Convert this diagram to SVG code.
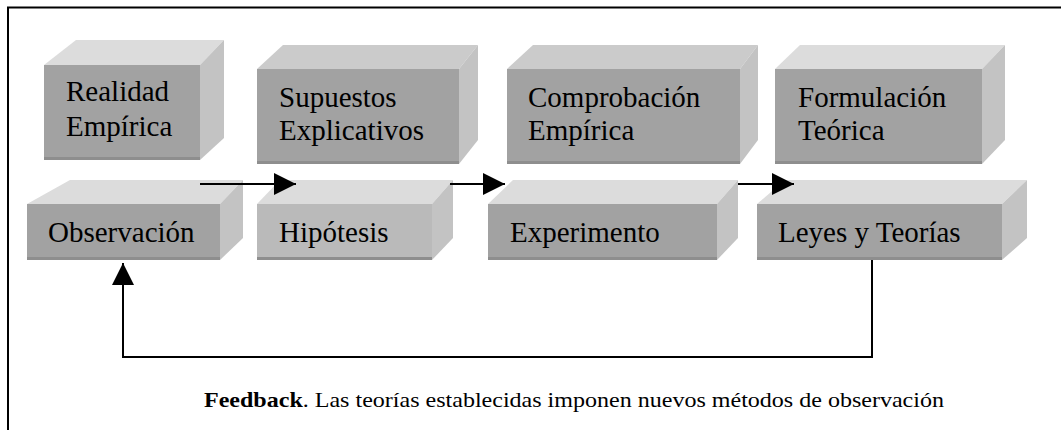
<svg xmlns="http://www.w3.org/2000/svg" width="1061" height="430" viewBox="0 0 1061 430">
<style>
.front{fill:#a2a2a2}
.frontL{fill:#bababa}
.top{fill:#dcdcdc}
.topD{fill:#cbcbcb}
.side{fill:#c3c3c3}
.edge{fill:#8e8e8e}
.lbl{font-family:"Liberation Serif","Times New Roman",serif;font-size:29px;fill:#000}
.cap{font-family:"Liberation Serif","Times New Roman",serif;font-size:21px;fill:#000}
.conn{fill:none;stroke:#000;stroke-width:2}
</style>
<defs>
<marker id="ah" markerUnits="userSpaceOnUse" markerWidth="22" markerHeight="22" viewBox="0 0 20 20" refX="20" refY="10" orient="auto">
<path d="M0,0 L20,10 L0,20 Z" fill="#000"/>
</marker>
</defs>
<rect width="1061" height="430" fill="#fff"/>
<path d="M8,430 V7.5 H1061" fill="none" stroke="#000" stroke-width="2"/>

<g id="realidad">
<polygon class="top" points="44,65 76,40 224,40 200,65"/>
<polygon class="side" points="200,65 224,40 224,138 200,160"/>
<rect class="front" x="44" y="65" width="156" height="95"/>
<rect class="edge" x="44" y="157" width="156" height="3"/>
<text class="lbl" x="66" y="101">Realidad</text>
<text class="lbl" x="66" y="136">Empírica</text>
</g>

<g id="supuestos">
<polygon class="topD" points="257,69 283,45 478,45 459,69"/>
<polygon class="side" points="459,69 478,45 478,140 459,164"/>
<rect class="front" x="257" y="69" width="202" height="95"/>
<rect class="edge" x="257" y="161" width="202" height="3"/>
<text class="lbl" x="279" y="107">Supuestos</text>
<text class="lbl" x="279" y="140">Explicativos</text>
</g>

<g id="comprobacion">
<polygon class="topD" points="507,69 533,45 758,45 740,69"/>
<polygon class="side" points="740,69 758,45 758,140 740,164"/>
<rect class="front" x="507" y="69" width="233" height="95"/>
<rect class="edge" x="507" y="161" width="233" height="3"/>
<text class="lbl" x="528" y="107">Comprobación</text>
<text class="lbl" x="528" y="140">Empírica</text>
</g>

<g id="formulacion">
<polygon class="top" points="775,69 800,45 1005,45 982,69"/>
<polygon class="side" points="982,69 1005,45 1005,140 982,164"/>
<rect class="front" x="775" y="69" width="207" height="95"/>
<rect class="edge" x="775" y="161" width="207" height="3"/>
<text class="lbl" x="798" y="107">Formulación</text>
<text class="lbl" x="798" y="140">Teórica</text>
</g>

<g id="observacion">
<polygon class="top" points="27,204 70,180 243,180 220,204"/>
<polygon class="side" points="220,204 243,180 243,238 220,260"/>
<rect class="front" x="27" y="204" width="193" height="56"/>
<rect class="edge" x="27" y="257" width="193" height="3"/>
<text class="lbl" x="48" y="242">Observación</text>
</g>

<g id="hipotesis">
<polygon class="top" points="257,204 280,180 453,180 432,204"/>
<polygon class="side" points="432,204 453,180 453,238 432,260"/>
<rect class="frontL" x="257" y="204" width="175" height="56"/>
<rect class="edge" x="257" y="257" width="175" height="3"/>
<text class="lbl" x="279" y="242">Hipótesis</text>
</g>

<g id="experimento">
<polygon class="top" points="488,204 513,180 738,180 717,204"/>
<polygon class="side" points="717,204 738,180 738,238 717,260"/>
<rect class="front" x="488" y="204" width="229" height="56"/>
<rect class="edge" x="488" y="257" width="229" height="3"/>
<text class="lbl" x="510" y="242">Experimento</text>
</g>

<g id="leyes">
<polygon class="top" points="757,204 785,180 1027,180 1002,204"/>
<polygon class="side" points="1002,204 1027,180 1027,238 1002,260"/>
<rect class="front" x="757" y="204" width="245" height="56"/>
<rect class="edge" x="757" y="257" width="245" height="3"/>
<text class="lbl" x="778" y="242">Leyes y Teorías</text>
</g>

<g id="connectors">
<line class="conn" x1="200" y1="184" x2="296" y2="184" marker-end="url(#ah)"/>
<line class="conn" x1="450" y1="184" x2="505" y2="184" marker-end="url(#ah)"/>
<line class="conn" x1="738" y1="184" x2="794" y2="184" marker-end="url(#ah)"/>
<polyline class="conn" points="872,260 872,357 123,357 123,263" marker-end="url(#ah)"/>
</g>

<text class="cap" x="204" y="407" textLength="740" lengthAdjust="spacingAndGlyphs"><tspan font-weight="bold">Feedback</tspan>. Las teorías establecidas imponen nuevos métodos de observación</text>
</svg>
